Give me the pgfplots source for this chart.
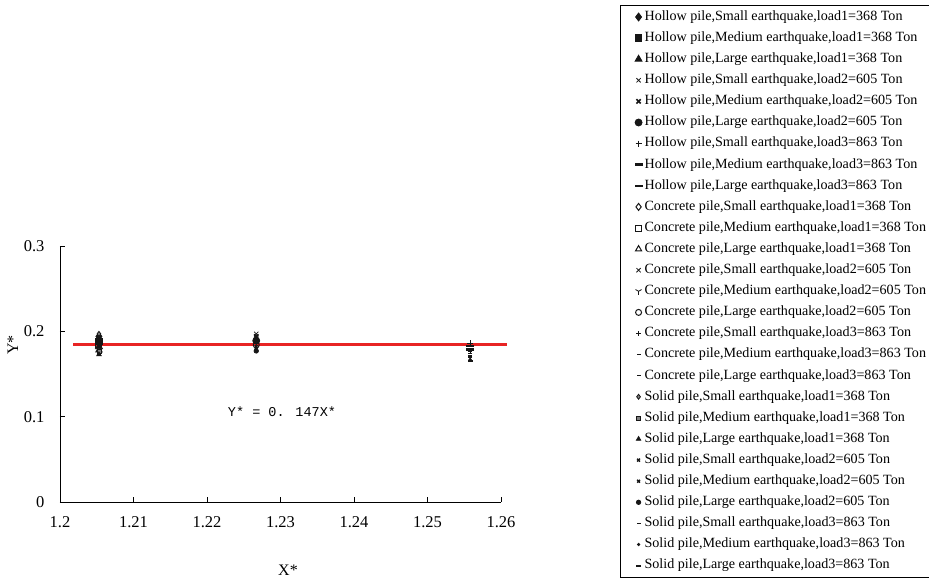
\documentclass[border=0pt]{standalone}
\usepackage{pgfplots}
\pgfplotsset{compat=1.18}
\usepackage{fontspec}
\setmainfont{Liberation Serif}
\newfontfamily\eqfont{Liberation Mono}
\definecolor{redline}{RGB}{232,36,36}
\definecolor{mk}{RGB}{22,22,22}
\begin{document}
\begin{tikzpicture}
\useasboundingbox (-60pt,-76pt) rectangle (869pt,502pt);
\begin{axis}[
 at={(0pt,0pt)}, anchor=south west,
 scale only axis, width=441pt, height=256pt,
 xmin=1.2, xmax=1.26, ymin=0, ymax=0.3,
 axis x line=bottom, axis y line=left,
 axis line style={-, line width=0.7pt, black},
 xtick={1.2,1.21,1.22,1.23,1.24,1.25,1.26},
 xticklabels={1.2,1.21,1.22,1.23,1.24,1.25,1.26},
 ytick={0,0.1,0.2,0.3}, yticklabels={0,0.1,0.2,0.3},
 tick align=inside, major tick length=5pt, tick style={black, line width=0.7pt},
 ticklabel style={font=\fontsize{16.5}{18}\selectfont},
 xticklabel style={yshift=-11pt},
 yticklabel style={xshift=-12pt},
 xlabel={X*}, ylabel={Y*},
 label style={font=\fontsize{16}{18}\selectfont},
 xlabel style={at={(axis description cs:0.517,-0.266)}, anchor=center},
 ylabel style={at={(axis description cs:-0.1066,0.613)}, anchor=center},
 clip=false,
 every axis plot/.append style={only marks, mk, line width=0.8pt},
 legend image code/.code={\path (-15pt,0pt); \draw[#1,/tikz/only marks] plot coordinates {(0pt,0pt)};},
 legend cell align=left,
 legend style={at={(axis description cs:1.2698,1.941)}, anchor=north west, draw=black, line width=0.7pt,
   inner xsep=2pt, inner ysep=1pt, row sep=0pt,
   nodes={font=\fontsize{14.1}{16}\selectfont, text height=9.5pt, text depth=2.8pt, inner ysep=4.4pt, inner xsep=2pt}},
]
\addplot[mark=diamond*, mark size=4pt] coordinates {(1.2053,0.194)};
\addlegendentry{Hollow pile,Small earthquake,load1=368 Ton}
\addplot[mark=square*, mark size=3.3pt] coordinates {(1.2053,0.188)};
\addlegendentry{Hollow pile,Medium earthquake,load1=368 Ton}
\addplot[mark=triangle*, mark size=4pt] coordinates {(1.2053,0.182)};
\addlegendentry{Hollow pile,Large earthquake,load1=368 Ton}
\addplot[mark=x, mark size=3pt] coordinates {(1.2267,0.197)};
\addlegendentry{Hollow pile,Small earthquake,load2=605 Ton}
\addplot[mark=x, mark size=3pt, line width=1.6pt] coordinates {(1.2267,0.194)};
\addlegendentry{Hollow pile,Medium earthquake,load2=605 Ton}
\addplot[mark=*, mark size=3.5pt] coordinates {(1.2267,0.189)};
\addlegendentry{Hollow pile,Large earthquake,load2=605 Ton}
\addplot[mark=+, mark size=3pt, line width=1pt] coordinates {(1.2558,0.186)};
\addlegendentry{Hollow pile,Small earthquake,load3=863 Ton}
\addplot[mark=-, mark size=4pt, line width=2.5pt] coordinates {(1.2558,0.183)};
\addlegendentry{Hollow pile,Medium earthquake,load3=863 Ton}
\addplot[mark=-, mark size=4pt, line width=2.5pt] coordinates {(1.2558,0.179)};
\addlegendentry{Hollow pile,Large earthquake,load3=863 Ton}
\addplot[mark=diamond, mark size=3.5pt, line width=1pt] coordinates {(1.2053,0.191)};
\addlegendentry{Concrete pile,Small earthquake,load1=368 Ton}
\addplot[mark=square, mark size=3pt, line width=1pt] coordinates {(1.2053,0.185)};
\addlegendentry{Concrete pile,Medium earthquake,load1=368 Ton}
\addplot[mark=triangle, mark size=3.5pt, line width=1pt] coordinates {(1.2053,0.178)};
\addlegendentry{Concrete pile,Large earthquake,load1=368 Ton}
\addplot[mark=x, mark size=3pt] coordinates {(1.2267,0.192)};
\addlegendentry{Concrete pile,Small earthquake,load2=605 Ton}
\addplot[mark=Mercedes star flipped, mark size=3.5pt] coordinates {(1.2267,0.186)};
\addlegendentry{Concrete pile,Medium earthquake,load2=605 Ton}
\addplot[mark=o, mark size=3pt, line width=1pt] coordinates {(1.2267,0.184)};
\addlegendentry{Concrete pile,Large earthquake,load2=605 Ton}
\addplot[mark=+, mark size=2.2pt] coordinates {(1.2558,0.176)};
\addlegendentry{Concrete pile,Small earthquake,load3=863 Ton}
\addplot[mark=-, mark size=2pt, line width=1.5pt] coordinates {(1.2558,0.174)};
\addlegendentry{Concrete pile,Medium earthquake,load3=863 Ton}
\addplot[mark=-, mark size=2pt, line width=1.5pt] coordinates {(1.2558,0.171)};
\addlegendentry{Concrete pile,Large earthquake,load3=863 Ton}
\addplot[mark=diamond*, mark size=2.5pt, mark options={fill=gray}] coordinates {(1.2053,0.197)};
\addlegendentry{Solid pile,Small earthquake,load1=368 Ton}
\addplot[mark=square*, mark size=2pt, mark options={fill=gray}] coordinates {(1.2053,0.176)};
\addlegendentry{Solid pile,Medium earthquake,load1=368 Ton}
\addplot[mark=triangle*, mark size=2.5pt] coordinates {(1.2053,0.173)};
\addlegendentry{Solid pile,Large earthquake,load1=368 Ton}
\addplot[mark=x, mark size=2pt, line width=1.4pt] coordinates {(1.2267,0.182)};
\addlegendentry{Solid pile,Small earthquake,load2=605 Ton}
\addplot[mark=x, mark size=2pt, line width=1.4pt] coordinates {(1.2267,0.179)};
\addlegendentry{Solid pile,Medium earthquake,load2=605 Ton}
\addplot[mark=*, mark size=2.2pt] coordinates {(1.2267,0.177)};
\addlegendentry{Solid pile,Large earthquake,load2=605 Ton}
\addplot[mark=-, mark size=2pt, line width=1pt] coordinates {(1.2558,0.169)};
\addlegendentry{Solid pile,Small earthquake,load3=863 Ton}
\addplot[mark=*, mark size=1.2pt] coordinates {(1.2558,0.167)};
\addlegendentry{Solid pile,Medium earthquake,load3=863 Ton}
\addplot[mark=-, mark size=2.5pt, line width=2pt] coordinates {(1.2558,0.165)};
\addlegendentry{Solid pile,Large earthquake,load3=863 Ton}
\addplot[redline, line width=3pt, sharp plot, no marks, forget plot] coordinates {(1.2018,0.184) (1.2608,0.184)};
\node[font=\eqfont\fontsize{13.5}{15}\selectfont] at (axis cs:1.2302,0.1056) {Y* = 0. 147X*};
\end{axis}
\end{tikzpicture}
\end{document}
